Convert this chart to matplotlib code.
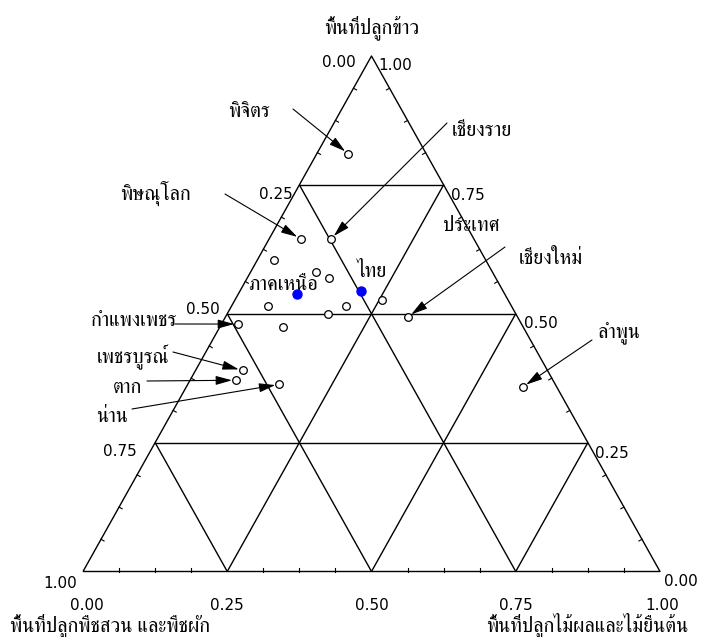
import matplotlib
matplotlib.use("Agg")
import matplotlib.pyplot as plt

# share of planted area per northern province
# rice = ข้าว, orchard = ไม้ผลและไม้ยืนต้น, the rest = พืชสวน และพืชผัก
provinces = ["พิจิตร", "พิษณุโลก", "เชียงราย", "เชียงใหม่", "กำแพงเพชร",
             "เพชรบูรณ์", "ตาก", "น่าน", "ลำพูน"]
rice = [0.810, 0.645, 0.645, 0.494, 0.480, 0.390, 0.371, 0.363, 0.358]
orchard = [0.055, 0.055, 0.107, 0.316, 0.029, 0.082, 0.080, 0.159, 0.583]

# provinces drawn without a name
rice_other = [0.604, 0.581, 0.570, 0.526, 0.516, 0.515, 0.500, 0.475]
orchard_other = [0.029, 0.114, 0.141, 0.255, 0.063, 0.198, 0.174, 0.109]

# region and country
regions = ["ภาคเหนือ", "ไทย"]
rice_region = [0.538, 0.544]
orchard_region = [0.102, 0.210]

tick_values = [0.0, 0.25, 0.5, 0.75, 1.0]
tick_labels = ["0.00", "0.25", "0.50", "0.75", "1.00"]

title_top = "พื้นที่ปลูกข้าว"
title_left = "พื้นที่ปลูกพืชสวน และพืชผัก"
title_right = "พื้นที่ปลูกไม้ผลและไม้ยืนต้น"
extra_label = "ประเทศ"

# layout, in figure pixels from the top left
X0, X1, YB, YT = 83, 660, 571.5, 56
SX, SY = X1 - X0, YB - YT
label_pos = [(249, 117), (155, 200), (482, 136), (551, 264), (134, 326),
             (133, 362), (128, 393), (112, 422), (619, 338)]
arrow_tail = [(293, 109), (225, 194), (447, 123), (505, 247), (175, 324),
              (173, 352), (147, 381), (132, 409), (592, 340)]
region_pos = [(283, 290), (372, 277)]
extra_pos = (471, 231)
left_off = [(-33, 11), (-23, 14), (-24, 0), (-35, 13), (-23, 16)]
right_off = [(24, 14), (24, 15), (25, 14), (24, 15), (21, 15)]
bottom_off = [(4, 38), (0, 38), (0, 38), (0, 38), (2, 38)]

THAI = ["FreeSerif", "DejaVu Sans"]
NUM = ["DejaVu Sans"]
thai_size = 14.6
num_size = 11


def px(x, y):
    return (x - X0) / SX, (YB - y) / SY


def to_px(x, y):
    return X0 + x * SX, YB - y * SY


def tern(r, f):
    return f + r / 2, r


fig = plt.figure(figsize=(7.07, 6.37), dpi=100)
ax = fig.add_axes([X0 / 707, (637 - YB) / 637, SX / 707, SY / 637])
ax.set_xlim(0, 1)
ax.set_ylim(0, 1)
ax.axis("off")

line = dict(color="black", lw=1.0, clip_on=False, solid_capstyle="butt")

# frame
corners = [tern(0, 0), tern(0, 1), tern(1, 0), tern(0, 0)]
ax.plot([c[0] for c in corners], [c[1] for c in corners], **line)

# grid
for t in tick_values[1:-1]:
    for a, b in [(tern(t, 0), tern(t, 1 - t)),
                 (tern(0, t), tern(1 - t, t)),
                 (tern(0, 1 - t), tern(1 - t, 0))]:
        ax.plot([a[0], b[0]], [a[1], b[1]], **line)

# small ticks
L = 3.5
for k in range(1, 16):
    if k % 4 == 0:
        continue
    t = k / 16
    for (x, y), (nx, ny) in [(tern(0, t), (0, 1)),
                             (tern(t, 0), (0.8725, -0.4885)),
                             (tern(t, 1 - t), (-0.8725, -0.4885))]:
        ax.plot([x, x + nx * L / SX], [y, y + ny * L / SY], color="black",
                lw=0.8, clip_on=False)

# tick labels
for i, lab in enumerate(tick_labels):
    v = tick_values[i]
    # left edge: field crops, 0 at top
    bx, by = to_px(*tern(1 - v, 0))
    ax.text(*px(bx + left_off[i][0], by + left_off[i][1]), lab, ha="center",
            va="baseline", fontsize=num_size, family=NUM)
    # right edge: rice, 1 at top
    bx, by = to_px(*tern(1 - v, v))
    ax.text(*px(bx + right_off[i][0], by + right_off[i][1]), tick_labels[-1 - i],
            ha="center", va="baseline", fontsize=num_size, family=NUM)
    # bottom: orchard
    bx, by = to_px(*tern(0, v))
    ax.text(*px(bx + bottom_off[i][0], by + bottom_off[i][1]), lab, ha="center",
            va="baseline", fontsize=num_size, family=NUM)

# axis titles
ax.text(*px(371.5, 33), title_top, ha="center", va="baseline",
        fontsize=thai_size, family=THAI)
ax.text(*px(10, 631), title_left, ha="left", va="baseline",
        fontsize=thai_size, family=THAI)
ax.text(*px(688, 631), title_right, ha="right", va="baseline",
        fontsize=thai_size, family=THAI)

# provinces
ax.plot([tern(r, f)[0] for r, f in zip(rice_other, orchard_other)],
        [tern(r, f)[1] for r, f in zip(rice_other, orchard_other)],
        "o", ms=5.5, mfc="white", mec="black", mew=0.9, zorder=5)
ax.plot([tern(r, f)[0] for r, f in zip(rice, orchard)],
        [tern(r, f)[1] for r, f in zip(rice, orchard)],
        "o", ms=5.5, mfc="white", mec="black", mew=0.9, zorder=5)
for name, r, f, lp, tail in zip(provinces, rice, orchard, label_pos, arrow_tail):
    ax.annotate("", xy=tern(r, f), xytext=px(*tail),
                arrowprops=dict(arrowstyle="-|>,head_length=0.9,head_width=0.25",
                                color="black", lw=0.8, shrinkA=0, shrinkB=3,
                                mutation_scale=11))
    ax.text(*px(*lp), name, ha="center", va="baseline", fontsize=thai_size,
            family=THAI)

# region / country
ax.plot([tern(r, f)[0] for r, f in zip(rice_region, orchard_region)],
        [tern(r, f)[1] for r, f in zip(rice_region, orchard_region)],
        "o", ms=6.5, color="#0000ff", mec="#0000ff", zorder=6)
for name, p in zip(regions, region_pos):
    ax.text(*px(*p), name, ha="center", va="baseline", fontsize=thai_size,
            family=THAI)
ax.text(*px(*extra_pos), extra_label, ha="center", va="baseline",
        fontsize=thai_size, family=THAI)

fig.savefig("out.png", dpi=100)
